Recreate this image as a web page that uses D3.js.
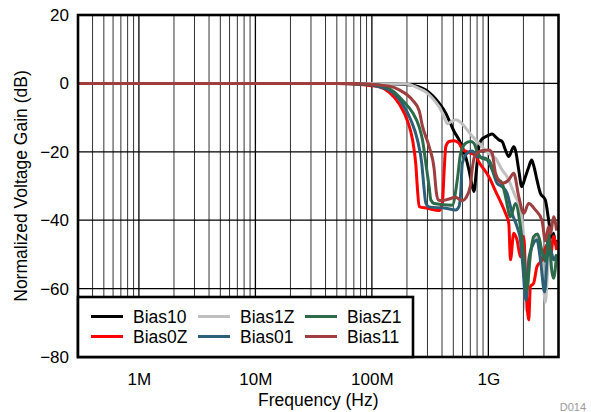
<!DOCTYPE html>
<html><head><meta charset="utf-8">
<script src="https://cdn.jsdelivr.net/npm/d3@7/dist/d3.min.js"></script>
<style>body{margin:0;background:#fff}svg{display:block;font-family:"Liberation Sans",Arial,sans-serif}</style>
</head><body><svg id="c" width="591" height="412"></svg>
<script>
// Frequency in MHz, gain in dB
const bias10 = [[0.3,0],[100,0],[196,-0.3],[254.7,-1.0],[290.6,-1.9],[330,-3.5],[377.5,-5.8],[430.8,-8.7],[470,-11.5],[507,-14.0],[560,-16.5],[638,-21.4],[681,-25.3],[727,-30],[752,-31.6],[790,-25.3],[829,-18.5],[870,-16.5],[946,-15.6],[1010,-15.1],[1078,-14.8],[1152,-15.6],[1229,-16.5],[1312,-17],[1403,-19.5],[1497,-21.4],[1651,-18.5],[1708,-19.5],[1823,-25.3],[1934,-30.2],[2079,-27.3],[2220,-24.5],[2354,-22.4],[2449,-24],[2613,-28.2],[2794,-32.1],[3083,-34.1],[3289,-39.9],[3510,-45.8],[3629,-43.8],[3753,-47],[3851,-45.8]];
const bias1Z = [[0.3,0],[100,0],[196,-0.2],[254.7,-1.5],[290.6,-2.5],[354,-5.5],[377.5,-6.8],[420,-10],[445,-11.8],[480,-11.2],[524,-10.6],[570,-11.2],[638,-13],[700,-14.8],[777,-16.5],[885,-18.5],[1010,-20.5],[1152,-21.9],[1312,-25.3],[1448,-27.3],[1708,-33.1],[1885,-36.5],[2011,-45.8],[2104,-66.3],[2220,-55],[2449,-45.8],[2702,-45],[2883,-51],[3083,-64],[3225,-55],[3510,-45.8],[3851,-47]];
const biasZ1 = [[0.3,0],[60,0],[115.9,-0.5],[141,-1.5],[171.8,-3.9],[183.4,-5.0],[223.3,-8.5],[254.7,-12.7],[271.8,-16.5],[290.6,-23.4],[310,-30.2],[320.7,-34.1],[342.2,-35.1],[490.4,-35.6],[541.2,-28.2],[578.6,-20.4],[638.4,-17.5],[704.4,-17.0],[751.7,-17.5],[802,-20.0],[885,-21.9],[1010,-22.4],[1152,-27.3],[1312,-29.2],[1403,-33.1],[1548,-39.0],[1708,-35.1],[1885,-41.9],[2011,-50],[2134,-60.5],[2295,-50],[2449,-44.8],[2650,-44],[2883,-49],[3083,-52],[3289,-44],[3510,-55],[3629,-57],[3851,-50]];
const bias0Z = [[0.3,0],[50,0],[80,-0.3],[95.2,-0.6],[115.9,-1.0],[141.1,-2.6],[171.8,-6.0],[202.3,-11.0],[223.3,-16.5],[238.7,-24],[246.3,-31],[254.7,-36],[300,-36.5],[377.5,-37.2],[402.8,-35],[416.6,-26],[430.8,-18.5],[459.6,-17],[507.1,-16.8],[559.6,-17.5],[597,-19.2],[704,-20.4],[777,-21],[829,-23],[885,-24.4],[1010,-27.3],[1152,-31.5],[1272,-34.6],[1403,-38],[1497,-40.9],[1548,-51.6],[1651,-43.8],[1763,-45.8],[1885,-50.7],[2011,-44.8],[2104,-59.4],[2220,-69.2],[2295,-59.4],[2449,-58.4],[2613,-53.6],[2883,-51.6],[3162,-47.3],[3421,-50.2],[3629,-44.8],[3851,-48.7]];
const bias01 = [[0.3,0],[50,0],[95.2,-0.4],[115.9,-1.0],[141,-1.9],[180,-5.6],[216,-10.7],[246,-16.5],[268,-23.4],[281,-31],[290.6,-35],[310,-36.1],[430.8,-36.5],[524.4,-37],[559.6,-36],[578.6,-32],[597.2,-23.4],[658.8,-20.4],[726.9,-19.8],[802,-21.4],[946,-21.9],[1078,-25.3],[1189,-29.2],[1312,-30.2],[1448,-32.1],[1598,-38],[1763,-41.9],[1885,-45.8],[1980,-53.7],[2104,-63.4],[2220,-51.6],[2400,-47.3],[2613,-45.8],[2800,-51.6],[3040,-61],[3225,-50.2],[3421,-48.7],[3629,-51.6],[3851,-50]];
const bias11 = [[0.3,0],[70,0],[141,-0.8],[171.8,-1.9],[223.3,-4.9],[254.7,-8.0],[271.8,-12.5],[310,-18.5],[342.2,-25],[357.9,-32],[372.3,-34.1],[400,-34.3],[460,-33.8],[520,-33.3],[600,-34.3],[640,-33.5],[700,-30],[727,-25],[760,-21.4],[829,-20.0],[900,-19.6],[1010,-19.5],[1078,-20.4],[1152,-26.3],[1312,-29.2],[1497,-28.2],[1651,-26.3],[1823,-33.1],[2011,-38],[2220,-35.1],[2532,-37.0],[2883,-40],[3083,-46],[3289,-41.9],[3421,-44],[3629,-39],[3851,-43]];

const seriesNames = ["Bias10","Bias1Z","Bias0Z","Bias01","BiasZ1","Bias11"];
const seriesColors = ["#000000","#c0c0c0","#ff0000","#2c5f78","#2b6b4a","#9e3e3e"];
const seriesData = [bias10, bias1Z, bias0Z, bias01, biasZ1, bias11];
const drawOrder = [0,1,2,3,4,5];
const legendOrder = [0,1,4,2,3,5];

const xTickValues = [1,10,100,1000];
const xTickLabels = ["1M","10M","100M","1G"];
const yTickValues = [20,0,-20,-40,-60,-80];
const xDomain = [0.3,4000];
const yDomain = [-80,20];

const svg = d3.select("#c");
const L=78, R=558.5, T=15, B=357;
const x = d3.scaleLog().domain(xDomain).range([L,R]);
const y = d3.scaleLinear().domain(yDomain).range([B,T]);

svg.append("rect").attr("width",591).attr("height",412).attr("fill","#fff");

// grid
const minor = [];
for (let e=-1;e<=3;e++) for (let m=1;m<=9;m++){const v=m*Math.pow(10,e); if(v>xDomain[0]&&v<xDomain[1]) minor.push(v);}
svg.append("g").selectAll("line").data(minor).join("line")
  .attr("x1",d=>x(d)).attr("x2",d=>x(d)).attr("y1",T).attr("y2",B)
  .attr("stroke",d=>xTickValues.includes(d)?"#000":"#333").attr("stroke-width",d=>xTickValues.includes(d)?1.3:1);
svg.append("g").selectAll("line").data(yTickValues.slice(1,-1)).join("line")
  .attr("x1",L).attr("x2",R).attr("y1",d=>y(d)).attr("y2",d=>y(d))
  .attr("stroke","#000").attr("stroke-width",1.3);

// lines
svg.append("clipPath").attr("id","clip").append("rect").attr("x",L).attr("y",T).attr("width",R-L).attr("height",B-T);
const line = d3.line().x(d=>x(d[0])).y(d=>y(d[1])).curve(d3.curveMonotoneX);
const g = svg.append("g").attr("clip-path","url(#clip)");
drawOrder.forEach(i=>{
  g.append("path").datum(seriesData[i]).attr("d",line).attr("fill","none")
   .attr("stroke",seriesColors[i]).attr("stroke-width",3).attr("stroke-linejoin","round");
});

// border
svg.append("rect").attr("x",L).attr("y",T).attr("width",R-L).attr("height",B-T)
  .attr("fill","none").attr("stroke","#000").attr("stroke-width",2.6);

// axes
const xa = svg.append("g").attr("transform",`translate(0,${B})`)
  .call(d3.axisBottom(x).tickValues(xTickValues).tickFormat((d,i)=>xTickLabels[i]).tickSize(0).tickPadding(0));
xa.select(".domain").remove();
xa.selectAll("text").attr("font-size",17).attr("fill","#000").attr("dy",null).attr("y",27.5)
  .attr("font-family","Liberation Sans, Arial, sans-serif");
const ya = svg.append("g").attr("transform",`translate(${L},0)`)
  .call(d3.axisLeft(y).tickValues(yTickValues).tickSize(0).tickPadding(9));
ya.select(".domain").remove();
ya.selectAll("text").attr("font-size",17).attr("fill","#000").attr("font-family","Liberation Sans, Arial, sans-serif");

svg.append("text").attr("x",(L+R)/2).attr("y",405.5).attr("text-anchor","middle")
  .attr("font-size",17.5).text("Frequency (Hz)");
svg.append("text").attr("transform","translate(27,186) rotate(-90)").attr("text-anchor","middle")
  .attr("font-size",17.5).text("Normalized Voltage Gain (dB)");
svg.append("text").attr("x",586).attr("y",410.5).attr("text-anchor","end")
  .attr("font-size",11).attr("fill","#999").text("D014");

// legend
const lg = svg.append("g");
lg.append("rect").attr("x",L).attr("y",297).attr("width",335).attr("height",60)
  .attr("fill","#fff").attr("stroke","#000").attr("stroke-width",2.6);
const colX = [91,198,305];
legendOrder.forEach((si,k)=>{
  const col = k%3, row = Math.floor(k/3);
  const cx = colX[col], cy = 316.5 + row*20;
  lg.append("line").attr("x1",cx).attr("x2",cx+32).attr("y1",cy).attr("y2",cy)
    .attr("stroke",seriesColors[si]).attr("stroke-width",3);
  lg.append("text").attr("x",cx+42).attr("y",cy).attr("dy","0.35em")
    .attr("font-size",17.5).text(seriesNames[si]);
});
</script></body></html>
